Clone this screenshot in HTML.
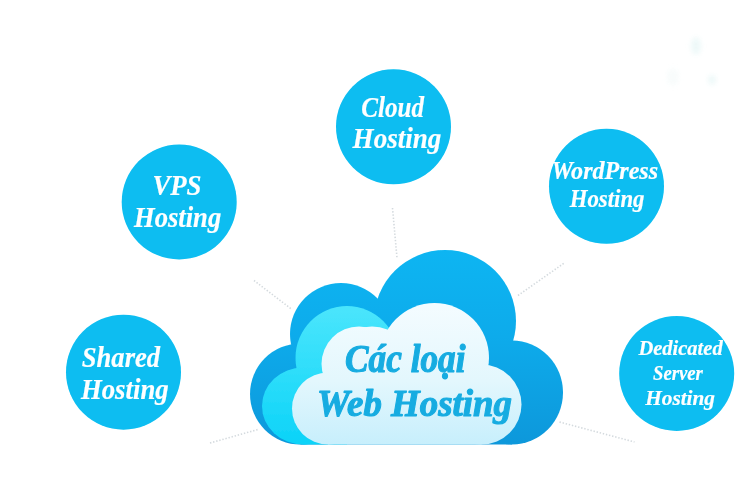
<!DOCTYPE html>
<html lang="vi">
<head>
<meta charset="utf-8">
<title>Các loại Web Hosting</title>
<style>
html,body{margin:0;padding:0;background:#fff;}
body{width:754px;height:494px;overflow:hidden;position:relative;font-family:"Liberation Serif","DejaVu Serif",serif;}
svg{display:block;position:absolute;left:0;top:0;}
.t{font-family:"Liberation Serif","DejaVu Serif",serif;font-weight:bold;font-style:italic;fill:#fff;stroke:#fff;stroke-width:0.2;stroke-linejoin:round;text-anchor:middle;}
.ct{font-family:"Liberation Serif","DejaVu Serif",serif;font-weight:bold;font-style:italic;fill:#16ace1;stroke:#16ace1;stroke-width:1.1;stroke-linejoin:round;text-anchor:middle;}
.d{stroke:#d4dade;stroke-width:1.6;stroke-dasharray:1.4 1.8;fill:none;}
</style>
</head>
<body>
<svg width="754" height="494" viewBox="0 0 754 494">
<defs>
<linearGradient id="og" gradientUnits="userSpaceOnUse" x1="0" y1="250" x2="0" y2="443">
<stop offset="0" stop-color="#08b5f2"/>
<stop offset="0.45" stop-color="#0aabeb"/>
<stop offset="1" stop-color="#1098db"/>
</linearGradient>
<linearGradient id="wg" gradientUnits="userSpaceOnUse" x1="0" y1="305" x2="0" y2="443">
<stop offset="0" stop-color="#f4fcff"/>
<stop offset="0.55" stop-color="#e3f7fd"/>
<stop offset="1" stop-color="#c8effc"/>
</linearGradient>
<linearGradient id="cg" gradientUnits="userSpaceOnUse" x1="0" y1="308" x2="0" y2="443">
<stop offset="0" stop-color="#4ae5fc"/>
<stop offset="0.5" stop-color="#2cddfa"/>
<stop offset="1" stop-color="#0cd3f8"/>
</linearGradient>
<filter id="b2" x="-50%" y="-50%" width="200%" height="200%"><feGaussianBlur stdDeviation="2.5"/></filter>
<filter id="b1" x="-5%" y="-5%" width="110%" height="110%"><feGaussianBlur stdDeviation="0.7"/></filter>
<filter id="b3" filterUnits="userSpaceOnUse" x="0" y="0" width="754" height="494"><feGaussianBlur stdDeviation="0.35"/></filter>
</defs>
<rect width="754" height="494" fill="#fff"/>
<g fill="#e6f6f6" opacity="0.7" filter="url(#b2)">
<ellipse cx="696" cy="46" rx="5" ry="9"/>
<ellipse cx="712" cy="80" rx="4" ry="5"/>
<ellipse cx="673" cy="77" rx="6" ry="9" opacity="0.4"/>
</g>
<g class="d" filter="url(#b3)">
<line x1="254" y1="280.5" x2="292" y2="309.5"/>
<line x1="392.5" y1="208" x2="397" y2="258"/>
<line x1="518" y1="295.5" x2="565" y2="262.5"/>
<line x1="210" y1="443" x2="258" y2="429.5"/>
<line x1="559.5" y1="422" x2="634.5" y2="442"/>
</g>
<g fill="#08bdf1" filter="url(#b1)">
<circle cx="179.2" cy="202" r="57.5"/>
<circle cx="393.5" cy="126.8" r="57.5"/>
<circle cx="606.5" cy="186.3" r="57.5"/>
<circle cx="123.5" cy="372.2" r="57.5"/>
<circle cx="676.7" cy="373.5" r="57.5"/>
</g>
<g filter="url(#b1)">
<g fill="url(#og)">
<circle cx="300.5" cy="394" r="50.5"/>
<circle cx="341" cy="334" r="51"/>
<circle cx="445" cy="321" r="71"/>
<ellipse cx="512" cy="392.5" rx="51" ry="52"/>
<polygon points="300.5,444.5 300.5,394 341,334 445,321 512,392.5 512,444.5"/>
</g>
<g fill="url(#cg)">
<ellipse cx="303" cy="406" rx="41" ry="38.5"/>
<ellipse cx="347" cy="358" rx="51.5" ry="52"/>
<polygon points="303,444.5 303,406 347,358 347,444.5"/>
</g>
<g fill="url(#wg)">
<circle cx="328" cy="408.5" r="36"/>
<circle cx="359" cy="364" r="37.5"/>
<circle cx="372" cy="366.5" r="40"/>
<circle cx="434.5" cy="357.5" r="54.5"/>
<circle cx="481.5" cy="404.5" r="40"/>
<polygon points="328,444.5 328,408.5 359,364 372,366.5 434.5,357.5 481.5,404.5 481.5,444.5"/>
</g>
</g>
<g class="t" filter="url(#b1)">
<text x="176.95" y="195.3" font-size="30" textLength="49.1" lengthAdjust="spacingAndGlyphs">VPS</text>
<text x="177.6" y="227.1" font-size="30" textLength="87.2" lengthAdjust="spacingAndGlyphs">Hosting</text>
<text x="392.6" y="117" font-size="30" textLength="62.8" lengthAdjust="spacingAndGlyphs">Cloud</text>
<text x="396.95" y="148" font-size="30" textLength="88.7" lengthAdjust="spacingAndGlyphs">Hosting</text>
<text x="604.8" y="178.5" font-size="24.5" textLength="106.6" lengthAdjust="spacingAndGlyphs">WordPress</text>
<text x="607.1" y="207.3" font-size="25" textLength="74.8" lengthAdjust="spacingAndGlyphs">Hosting</text>
<text x="120.95" y="367" font-size="30" textLength="78.3" lengthAdjust="spacingAndGlyphs">Shared</text>
<text x="124.8" y="398.5" font-size="30" textLength="87.8" lengthAdjust="spacingAndGlyphs">Hosting</text>
<text x="680.55" y="355.4" font-size="21.5" textLength="84.3" lengthAdjust="spacingAndGlyphs">Dedicated</text>
<text x="677.95" y="379.9" font-size="21.5" textLength="49.9" lengthAdjust="spacingAndGlyphs">Server</text>
<text x="680.1" y="404.9" font-size="21.5" textLength="69.8" lengthAdjust="spacingAndGlyphs">Hosting</text>
</g>
<g class="ct" filter="url(#b1)">
<text x="405.25" y="372" font-size="39" textLength="120.5" lengthAdjust="spacingAndGlyphs">Các loại</text>
<text x="414.5" y="416.3" font-size="38.5" textLength="195" lengthAdjust="spacingAndGlyphs">Web Hosting</text>
</g>
</svg>
</body>
</html>
